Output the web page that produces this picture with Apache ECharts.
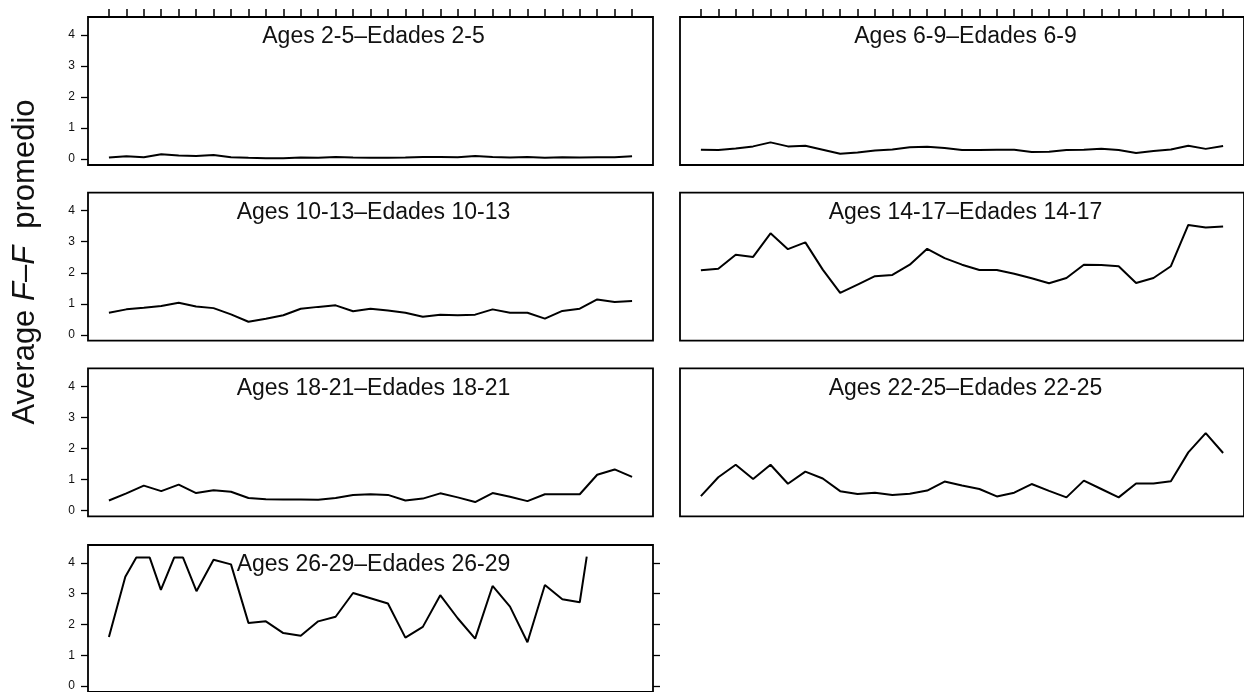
<!DOCTYPE html>
<html><head><meta charset="utf-8">
<script src="https://cdn.jsdelivr.net/npm/echarts@6/dist/echarts.min.js"></script>
<style>html,body{margin:0;padding:0;background:#fff}#c{width:1244px;height:692px}</style>
</head><body><div id="c"></div>
<script>
// ---- data ----
const sessions = [1,2,3,4,5,6,7,8,9,10,11,12,13,14,15,16,17,18,19,20,21,22,23,24,25,26,27,28,29,30,31];
const yTickValues = [0,1,2,3,4];
const panelTitles = ['Ages 2-5\u2013Edades 2-5','Ages 6-9\u2013Edades 6-9','Ages 10-13\u2013Edades 10-13','Ages 14-17\u2013Edades 14-17','Ages 18-21\u2013Edades 18-21','Ages 22-25\u2013Edades 22-25','Ages 26-29\u2013Edades 26-29'];
const ages2_5   = [0.05,0.09,0.06,0.16,0.12,0.10,0.13,0.06,0.04,0.03,0.03,0.05,0.04,0.07,0.05,0.04,0.04,0.05,0.07,0.07,0.06,0.10,0.07,0.05,0.07,0.04,0.06,0.05,0.06,0.06,0.09];
const ages6_9   = [0.30,0.29,0.34,0.41,0.54,0.41,0.43,0.30,0.17,0.21,0.28,0.31,0.38,0.40,0.36,0.29,0.29,0.30,0.30,0.23,0.24,0.29,0.30,0.33,0.29,0.20,0.26,0.31,0.43,0.33,0.42];
const ages10_13 = [0.71,0.82,0.87,0.93,1.03,0.91,0.86,0.66,0.42,0.52,0.63,0.84,0.90,0.95,0.76,0.84,0.78,0.71,0.58,0.65,0.63,0.65,0.82,0.71,0.71,0.52,0.77,0.84,1.14,1.06,1.09];
const ages14_17 = [2.08,2.13,2.58,2.51,3.27,2.76,2.98,2.10,1.35,1.62,1.89,1.93,2.26,2.77,2.47,2.26,2.09,2.09,1.97,1.82,1.66,1.83,2.26,2.25,2.21,1.67,1.83,2.21,3.54,3.46,3.49];
const ages18_21 = [0.32,0.55,0.80,0.62,0.83,0.56,0.65,0.60,0.40,0.36,0.35,0.35,0.34,0.40,0.50,0.52,0.50,0.32,0.38,0.55,0.42,0.27,0.56,0.44,0.30,0.52,0.52,0.52,1.15,1.32,1.08];
const ages22_25 = [0.46,1.07,1.47,1.01,1.47,0.86,1.25,1.03,0.62,0.53,0.57,0.50,0.54,0.64,0.93,0.80,0.69,0.45,0.57,0.85,0.63,0.42,0.96,0.69,0.42,0.87,0.87,0.94,1.87,2.49,1.85];
const sessions26_29 = [1,1.94,2.57,3.34,3.98,4.74,5.25,6.02,7,8,9,10,11,12,13,14,15,16,17,18,19,20,21,22,23,24,25,26,27,28,28.4];
const ages26_29 = [1.59,3.55,4.17,4.17,3.12,4.17,4.17,3.08,4.10,3.95,2.05,2.10,1.72,1.63,2.10,2.25,3.02,2.85,2.68,1.57,1.92,2.95,2.20,1.54,3.25,2.58,1.42,3.28,2.82,2.72,4.20];

// ---- layout ----
const colLeft = [88, 680];
const panelW = 565, panelH = 148;
const rowTop = [17, 192.7, 368.3, 545];
const yMin = -0.19, yMax = 4.58, xMin = -0.2, xMax = 32.2;

const panels = [
  {xs: sessions, ys: ages2_5, col: 0, row: 0},
  {xs: sessions, ys: ages6_9, col: 1, row: 0},
  {xs: sessions, ys: ages10_13, col: 0, row: 1},
  {xs: sessions, ys: ages14_17, col: 1, row: 1},
  {xs: sessions, ys: ages18_21, col: 0, row: 2},
  {xs: sessions, ys: ages22_25, col: 1, row: 2},
  {xs: sessions26_29, ys: ages26_29, col: 0, row: 3, rightTicks: true}
];

const FONT = 'Liberation Sans, Arial, Helvetica, sans-serif';
const grid = [], xAxis = [], yAxis = [], series = [], graphic = [];
panels.forEach((p, i) => {
  grid.push({left: colLeft[p.col], top: rowTop[p.row], width: panelW, height: panelH,
    show: true, borderColor: '#000', borderWidth: 1.8, backgroundColor: 'transparent'});
  xAxis.push({gridIndex: i, type: 'value', min: xMin, max: xMax,
    position: p.row === 0 ? 'top' : 'bottom',
    axisLine: {show: false, onZero: false}, splitLine: {show: false}, axisLabel: {show: false},
    axisTick: {show: p.row === 0, inside: false, length: 8, customValues: sessions,
      lineStyle: {color: '#000', width: 1.5}}});
  const yi = yAxis.length;
  yAxis.push({gridIndex: i, type: 'value', min: yMin, max: yMax, position: 'left',
    axisLine: {show: false, onZero: false}, splitLine: {show: false},
    axisTick: {show: p.col === 0, inside: false, length: 7, customValues: yTickValues,
      lineStyle: {color: '#000', width: 1.3}},
    axisLabel: {show: p.col === 0, customValues: yTickValues, fontSize: 12, color: '#111',
      margin: 13, fontFamily: FONT}});
  if (p.rightTicks) {
    yAxis.push({gridIndex: i, type: 'value', min: yMin, max: yMax, position: 'right',
      axisLine: {show: false, onZero: false}, splitLine: {show: false}, axisLabel: {show: false},
      axisTick: {show: true, inside: false, length: 7, customValues: yTickValues,
        lineStyle: {color: '#000', width: 1.3}}});
  }
  series.push({type: 'line', xAxisIndex: i, yAxisIndex: yi,
    data: p.xs.map((x, k) => [x, p.ys[k]]), symbol: 'none',
    lineStyle: {color: '#000', width: 2}, silent: true});
  graphic.push({type: 'text', x: colLeft[p.col] + panelW / 2 + 3, y: rowTop[p.row] + 20,
    style: {text: panelTitles[i], fill: '#111', font: '23px ' + FONT,
      textAlign: 'center', textVerticalAlign: 'middle'}});
});

graphic.push({type: 'text', x: 25, y: 262, rotation: Math.PI / 2,
  style: {text: '{n|Average }{i|F}{n|\u2013}{i|F}{n|  promedio}', textAlign: 'center', textVerticalAlign: 'middle',
    rich: {n: {fontSize: 31, fontFamily: FONT, fill: '#111'},
           i: {fontSize: 31, fontFamily: FONT, fontStyle: 'italic', fill: '#111'}}}});

const chart = echarts.init(document.getElementById('c'), null, {renderer: 'canvas'});
chart.setOption({animation: false, backgroundColor: '#fff', grid, xAxis, yAxis, series, graphic});
</script></body></html>
